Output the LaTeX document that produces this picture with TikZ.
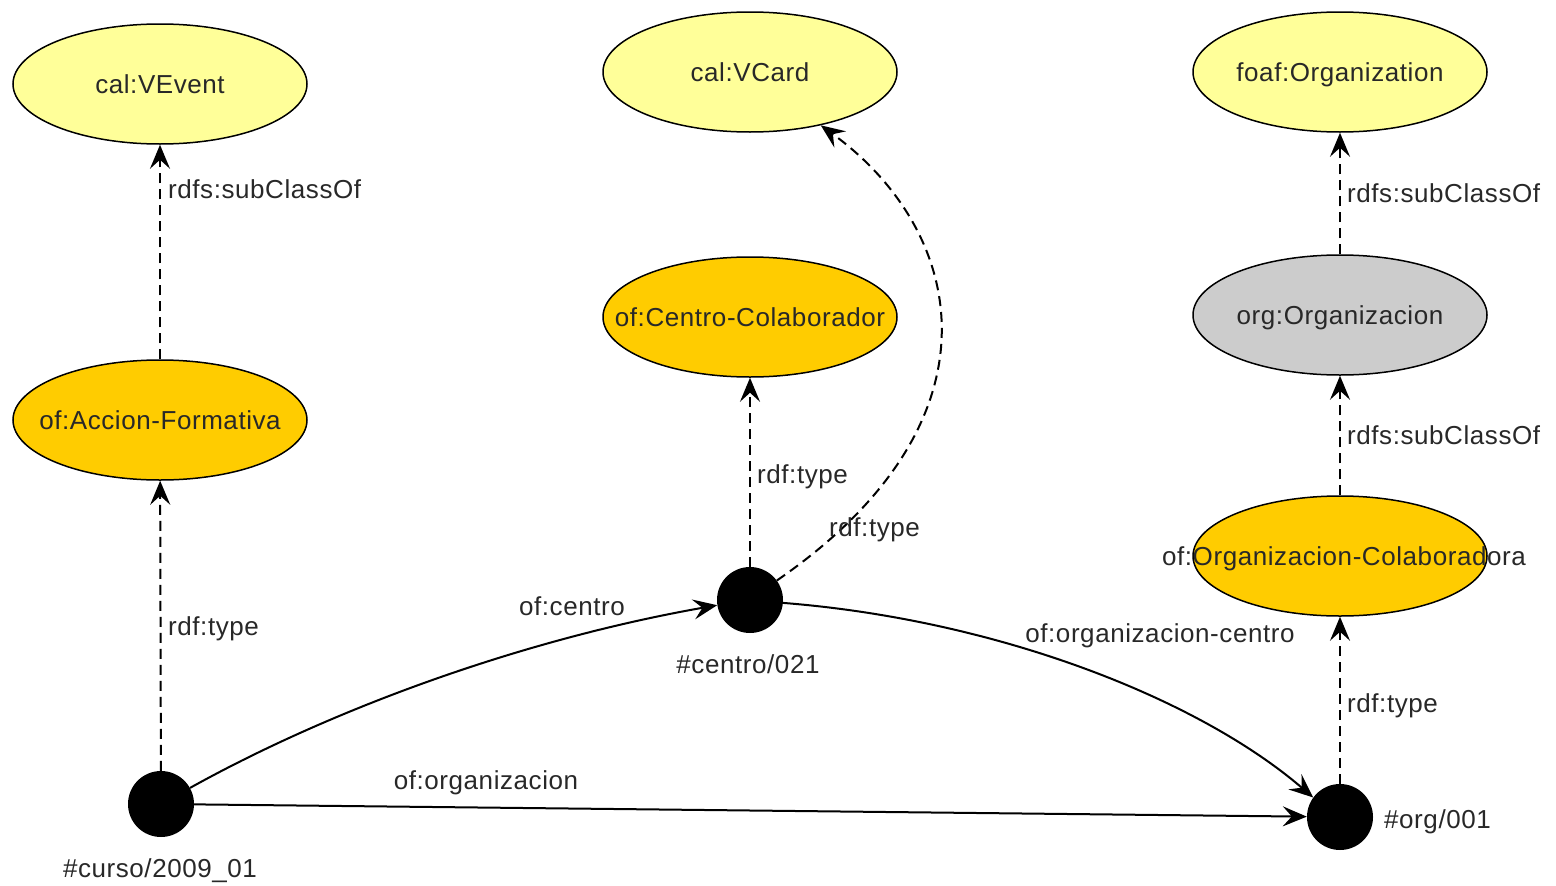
\documentclass[tikz,border=0pt]{standalone}
\usepackage{fontspec}
\setmainfont[LetterSpace=2.2]{Liberation Sans}
\usetikzlibrary{arrows.meta,shapes.geometric}
\definecolor{lightyel}{RGB}{255,255,153}
\definecolor{goldyel}{RGB}{255,204,0}
\definecolor{grayfill}{RGB}{204,204,204}
\definecolor{txtcol}{RGB}{40,40,40}
\tikzset{
  cls/.style={ellipse, draw=black, line width=1.5pt, inner sep=0pt,
              minimum width=294pt, minimum height=120pt},
  dot/.style={circle, fill=black, inner sep=0pt, minimum size=66pt},
  txt/.style={font=\fontsize{26}{30}\selectfont, text=txtcol, inner sep=0pt,
              text height=19pt, text depth=0pt},
  lbl/.style={txt, anchor=west},
  tip/.style={-{Stealth[length=24pt,width=20pt,inset=9pt]}},
  rel/.style={tip, line width=2pt, draw=black},
  typ/.style={rel, dash pattern=on 10pt off 6pt}
}
\begin{document}
\begin{tikzpicture}[x=1pt,y=-1pt]
\useasboundingbox (0,0) rectangle (1556,886);
% classes
\node[cls, fill=lightyel] (vevent) at (160,84) {};
\node[txt] (tvevent) at (vevent) {cal:VEvent};
\node[cls, fill=lightyel] (vcard) at (750,72) {};
\node[txt] (tvcard) at (vcard) {cal:VCard};
\node[cls, fill=lightyel] (foaf) at (1340,72) {};
\node[txt] (tfoaf) at (foaf) {foaf:Organization};
\node[cls, fill=goldyel] (ccol) at (750,317) {};
\node[txt] (tccol) at (ccol) {of:Centro-Colaborador};
\node[cls, fill=grayfill] (orgorg) at (1340,315) {};
\node[txt] (torgorg) at (orgorg) {org:Organizacion};
\node[cls, fill=goldyel] (accion) at (160,420) {};
\node[txt] (taccion) at (accion) {of:Accion-Formativa};
\node[cls, fill=goldyel] (ocol) at (1340,556) {};
\node[txt] (tocol) at (1344,556) {of:Organizacion-Colaboradora};
% instances
\node[dot] (curso) at (161,804) {};
\node[txt] (tcurso) at (160,868) {\#curso/2009\_01};
\node[dot] (centro) at (750,600) {};
\node[txt] (tcentro) at (748,664) {\#centro/021};
\node[dot] (org) at (1340,817) {};
\node[lbl] (torg) at (1384,819) {\#org/001};
% dashed type / subclass edges
\draw[typ] (curso) -- (accion);
\draw[typ] (accion) -- (vevent);
\draw[typ] (centro) -- (ccol);
\draw[typ] (centro.36) .. controls (1010,420) and (965,230) .. (vcard.-37);
\draw[typ] (org) -- (ocol);
\draw[typ] (ocol) -- (orgorg);
\draw[typ] (orgorg) -- (foaf);
% solid property edges
\draw[rel] (curso.29) .. controls (330,710) and (520,640) .. (centro.189);
\draw[rel] (curso) -- (org);
\draw[rel] (centro.-5) .. controls (1000,620) and (1200,700) .. (org.144);
% edge labels
\node[lbl] (l1) at (168,189) {rdfs:subClassOf};
\node[lbl] (l2) at (168,626) {rdf:type};
\node[lbl] (l3) at (757,474) {rdf:type};
\node[lbl] (l4) at (829,527) {rdf:type};
\node[txt] (l5) at (572,606) {of:centro};
\node[txt] (l6) at (486,780) {of:organizacion};
\node[txt] (l7) at (1160,633) {of:organizacion-centro};
\node[lbl] (l8) at (1347,193) {rdfs:subClassOf};
\node[lbl] (l9) at (1347,435) {rdfs:subClassOf};
\node[lbl] (l10) at (1347,703) {rdf:type};
\end{tikzpicture}
\end{document}
